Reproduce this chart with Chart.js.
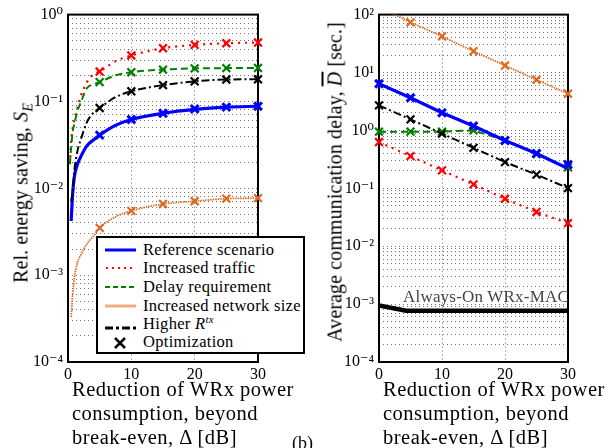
<!DOCTYPE html>
<html>
<head>
<meta charset="utf-8">
<script src="https://cdn.jsdelivr.net/npm/chart.js@4/dist/chart.umd.min.js"></script>
<style>
body { margin: 0; background: #fff; width: 608px; height: 448px; overflow: hidden; position: relative;
       font-family: 'Liberation Serif', 'DejaVu Serif', serif; color: #000; }
canvas { position: absolute; }
.lbl { position: absolute; white-space: nowrap; }
.ytitle { position: absolute; white-space: nowrap; font-size: 20px; letter-spacing: 0.1px; transform: translate(-50%, -50%) rotate(-90deg); }
.xtitle { position: absolute; white-space: nowrap; font-size: 20.5px; letter-spacing: 0.5px; line-height: 24px; }
sub, sup { line-height: 0; }
#legend { position: absolute; left: 96px; top: 236px; width: 205px; height: 114px; border: 2px solid #000; background: #fff; z-index: 5; }
#legend .row { position: absolute; left: 0; height: 18px; font-size: 16.5px; letter-spacing: 0.3px; line-height: 18px; }
#legend svg { position: absolute; left: 7px; top: 0; }
#legend span { position: absolute; left: 45px; top: 0; white-space: nowrap; }
</style>
</head>
<body>

<canvas id="leftChart" width="270" height="380" style="left:0;top:0"></canvas>
<canvas id="rightChart" width="280" height="380" style="left:300px;top:0"></canvas>

<div class="ytitle" style="left:21px;top:193px">Rel. energy saving, <i>S</i><sub style="font-size:14px"><i>E</i></sub></div>
<div class="ytitle" style="left:335px;top:182px">Average communication delay, <i style="text-decoration:overline">D</i> [sec.]</div>

<div class="xtitle" style="left:72px;top:377px">Reduction of WRx power<br>consumption, beyond<br>break-even, &Delta; [dB]</div>
<div class="xtitle" style="left:383px;top:377px">Reduction of WRx power<br>consumption, beyond<br>break-even, &Delta; [dB]</div>
<div class="lbl" style="left:292px;top:433px;font-size:18px">(b)</div>
<div class="lbl" style="left:403px;top:287px;font-size:17px;letter-spacing:0.2px;color:#444">Always-On WRx-MAC</div>

<div id="legend">
  <div class="row" style="top:3px"><svg width="32" height="18"><line x1="0" y1="9" x2="31" y2="9" stroke="#0000ff" stroke-width="3"/></svg><span>Reference scenario</span></div>
  <div class="row" style="top:21px"><svg width="32" height="18"><line x1="1" y1="9" x2="31" y2="9" stroke="#ff0000" stroke-width="2" stroke-dasharray="2,4"/></svg><span>Increased traffic</span></div>
  <div class="row" style="top:40px"><svg width="32" height="18"><line x1="0" y1="9" x2="31" y2="9" stroke="#008000" stroke-width="2" stroke-dasharray="5,3"/></svg><span>Delay requirement</span></div>
  <div class="row" style="top:59px"><svg width="32" height="18"><line x1="0" y1="9" x2="31" y2="9" stroke="#f2aa80" stroke-width="3"/></svg><span>Increased network size</span></div>
  <div class="row" style="top:77px"><svg width="32" height="18"><line x1="0" y1="13" x2="31" y2="13" stroke="#000" stroke-width="3" stroke-dasharray="8,3,3,3"/></svg><span>Higher <i>R</i><sup style="font-size:11px"><i>tx</i></sup></span></div>
  <div class="row" style="top:95px"><svg width="32" height="18"><path d="M10 5 L20 15 M20 5 L10 15" stroke="#000" stroke-width="2.5"/></svg><span>Optimization</span></div>
</div>

<script>
// x positions (Delta, dB)
const deltaCurve = [0.3, 0.5, 0.75, 1, 1.5, 2, 3, 4, 5, 7.5, 10, 15, 20, 25, 30];
const deltaOpt = [5, 10, 15, 20, 25, 30];
const deltaRight = [0, 5, 10, 15, 20, 25, 30];
const deltaAlwaysOn = [0, 4.3, 30];
const xTicks = [0, 10, 20, 30];

// left: relative energy saving S_E (curves)
const seRef     = [null, 0.0042, 0.009, 0.0135, 0.019, 0.023, 0.031, 0.036, 0.041, 0.053, 0.062, 0.073, 0.081, 0.086, 0.088];
const seTraffic = [0.019, 0.035, 0.05, 0.062, 0.085, 0.115, 0.167, 0.205, 0.221, 0.29, 0.338, 0.41, 0.448, 0.468, 0.477];
const seDelay   = [0.019, 0.03, 0.045, 0.055, 0.078, 0.097, 0.143, 0.157, 0.167, 0.2, 0.217, 0.233, 0.24, 0.242, 0.243];
const seNetwork = [null, 0.00033, 0.00062, 0.00092, 0.0014, 0.0017, 0.0023, 0.0028, 0.0035, 0.0047, 0.0055, 0.0066, 0.0071, 0.0076, 0.0077];
const seHigherR = [null, 0.007, 0.0095, 0.016, 0.027, 0.036, 0.058, 0.074, 0.084, 0.112, 0.131, 0.154, 0.17, 0.179, 0.18];

// left: optimization markers
const seRefOpt     = [0.041, 0.062, 0.073, 0.082, 0.086, 0.088];
const seTrafficOpt = [0.221, 0.338, 0.41, 0.448, 0.468, 0.477];
const seDelayOpt   = [0.167, 0.217, 0.233, 0.24, 0.242, 0.243];
const seNetworkOpt = [0.0035, 0.0055, 0.0066, 0.0071, 0.0076, 0.0077];
const seHigherROpt = [0.084, 0.131, 0.154, 0.17, 0.179, 0.18];

// right: average delay D (sec.)
const dRef        = [6.4, 3.66, 2.02, 1.19, 0.67, 0.40, 0.22];
const dTraffic    = [0.63, 0.36, 0.204, 0.117, 0.066, 0.039, 0.025];
const dDelay      = [0.95, 0.95, 0.95, 1.0, 0.67, 0.39, 0.22];
const dNetwork    = [135, 73.6, 42, 23.3, 13.2, 7.5, 4.3];
const dHigherR    = [2.7, 1.55, 0.88, 0.50, 0.284, 0.172, 0.101];
const dAlwaysOn   = [0.00095, 0.00077, 0.00077];

const dRefOpt     = [6.4, 3.66, 2.02, 1.19, 0.67, 0.40, 0.257];
const dTrafficOpt = [0.63, 0.36, 0.204, 0.117, 0.066, 0.039, 0.025];
const dDelayOpt   = [0.95, 0.95, 0.95, 1.0, 0.67, 0.39, 0.23];
const dNetworkOpt = [73.6, 42, 23.3, 13.2, 7.5, 4.3];
const dHigherROpt = [2.7, 1.55, 0.88, 0.50, 0.284, 0.172, 0.101];

// tick labels
const leftDecades = [-4, -3, -2, -1, 0];
const leftDecadeLabels = ['10⁻⁴', '10⁻³', '10⁻²', '10⁻¹', '10⁰'];
const rightDecades = [-4, -3, -2, -1, 0, 1, 2];
const rightDecadeLabels = ['10⁻⁴', '10⁻³', '10⁻²', '10⁻¹', '10⁰', '10¹', '10²'];

const BLUE = '#0000ff', RED = '#ff0000', GREEN = '#008000', ORANGE = '#dd6a22', BLACK = '#000000';
const FONT = "'Liberation Serif', 'DejaVu Serif', serif";

function pts(xs, ys) {
    return xs.map((x, i) => ({ x: x, y: ys[i] }));
}

function curve(xs, ys, color, width, dash) {
    return {
        data: pts(xs, ys),
        borderColor: color,
        borderWidth: width,
        borderDash: dash,
        pointRadius: 0,
        fill: false,
        cubicInterpolationMode: 'monotone'
    };
}

function markers(xs, ys, color, width) {
    return {
        data: pts(xs, ys),
        showLine: false,
        pointStyle: 'crossRot',
        pointRadius: 5.5,
        pointBorderWidth: width || 2.2,
        pointBorderColor: color,
        borderColor: color,
        clip: false
    };
}

// all 1..9 x 10^e gridlines between the decades
function logGrid(decades) {
    const out = [];
    for (let i = 0; i < decades.length; i++) {
        const base = Math.pow(10, decades[i]);
        if (i === decades.length - 1) { out.push({ value: base }); break; }
        for (let d = 1; d <= 9; d++) out.push({ value: d * base });
    }
    return out;
}

const framePlugin = {
    id: 'frame',
    beforeDatasetsDraw(chart) {
        const a = chart.chartArea;
        const ctx = chart.ctx;
        ctx.save();
        ctx.strokeStyle = '#000';
        ctx.lineWidth = 2;
        ctx.strokeRect(a.left, a.top, a.right - a.left, a.bottom - a.top);
        ctx.restore();
    }
};

function makeOptions(decades, labels, yWidth, padRight) {
    return {
        responsive: false,
        animation: false,
        events: [],
        layout: { padding: { top: 14, right: padRight, left: 0, bottom: 0 } },
        plugins: { legend: { display: false }, tooltip: { enabled: false } },
        scales: {
            x: {
                type: 'linear',
                min: 0, max: 30,
                afterBuildTicks: s => { s.ticks = xTicks.map(v => ({ value: v })); },
                afterFit: s => { s.height = 18; },
                grid: { color: 'rgba(0,0,0,0.6)', lineWidth: 1, drawTicks: false },
                border: { display: false, dash: [1, 3] },
                ticks: { padding: 3, color: '#000', font: { family: FONT, size: 16 }, maxRotation: 0 }
            },
            y: {
                type: 'logarithmic',
                min: Math.pow(10, decades[0]),
                max: Math.pow(10, decades[decades.length - 1]),
                afterBuildTicks: s => { s.ticks = logGrid(decades); },
                afterFit: s => { s.width = yWidth; },
                grid: { color: 'rgba(0,0,0,0.55)', lineWidth: 1, drawTicks: false },
                border: { display: false, dash: [1, 3] },
                ticks: {
                    autoSkip: false,
                    padding: 5,
                    color: '#000',
                    font: { family: FONT, size: 16 },
                    callback: v => {
                        const e = Math.log10(v);
                        const k = decades.indexOf(Math.round(e));
                        return (Math.abs(e - Math.round(e)) < 1e-6 && k >= 0) ? labels[k] : '';
                    }
                }
            }
        }
    };
}

new Chart(document.getElementById('leftChart'), {
    type: 'line',
    data: {
        datasets: [
            curve(deltaCurve, seNetwork, ORANGE, 1.8, [1.5, 1]),
            curve(deltaCurve, seHigherR, BLACK, 2, [8, 3, 2, 3]),
            curve(deltaCurve, seDelay, GREEN, 2, [7, 4]),
            curve(deltaCurve, seTraffic, RED, 2.2, [2, 5]),
            curve(deltaCurve, seRef, BLUE, 3.2, []),
            markers(deltaOpt, seNetworkOpt, ORANGE),
            markers(deltaOpt, seHigherROpt, BLACK),
            markers(deltaOpt, seDelayOpt, GREEN),
            markers(deltaOpt, seTrafficOpt, RED),
            markers(deltaOpt, seRefOpt, BLUE, 3)
        ]
    },
    options: makeOptions(leftDecades, leftDecadeLabels, 68, 12),
    plugins: [framePlugin]
});

const straight = (xs, ys, color, width, dash) => Object.assign(curve(xs, ys, color, width, dash), { cubicInterpolationMode: 'default', tension: 0 });

new Chart(document.getElementById('rightChart'), {
    type: 'line',
    data: {
        datasets: [
            straight(deltaAlwaysOn, dAlwaysOn, BLACK, 4.5, []),
            straight(deltaRight, dNetwork, ORANGE, 1.8, [1.5, 1]),
            straight(deltaRight, dTraffic, RED, 2.2, [2, 5]),
            straight(deltaRight, dHigherR, BLACK, 2, [8, 3, 2, 3]),
            straight(deltaRight, dRef, BLUE, 3.2, []),
            straight(deltaRight, dDelay, GREEN, 2, [7, 4]),
            markers(deltaOpt, dNetworkOpt, ORANGE),
            markers(deltaRight, dTrafficOpt, RED),
            markers(deltaRight, dHigherROpt, BLACK),
            markers(deltaRight, dRefOpt, BLUE, 3),
            markers(deltaRight, dDelayOpt, GREEN)
        ]
    },
    options: makeOptions(rightDecades, rightDecadeLabels, 79, 12),
    plugins: [framePlugin]
});
</script>
</body>
</html>
